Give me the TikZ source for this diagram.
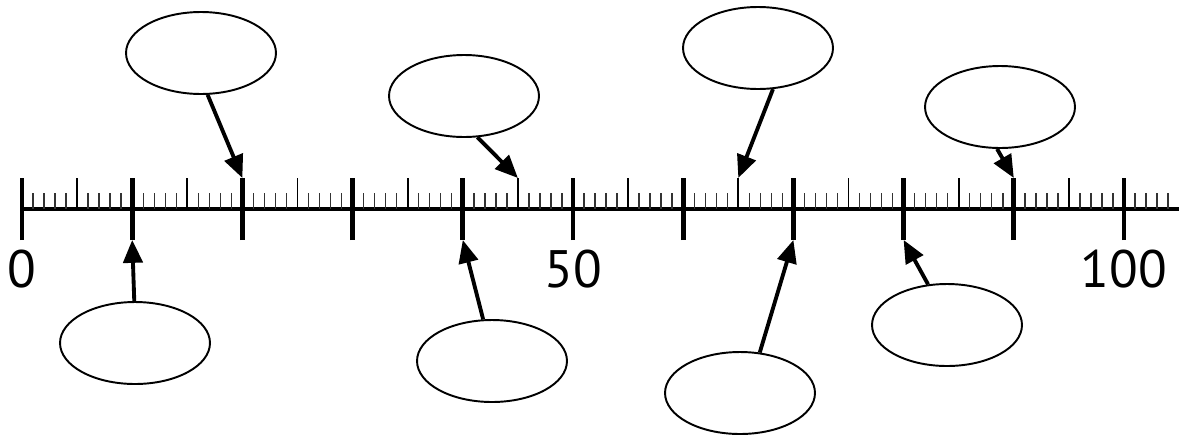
\documentclass[tikz,border=0pt]{standalone}
\usepackage{fontspec}
\setmainfont{PT Sans}
\usetikzlibrary{arrows.meta,shapes.geometric}
\begin{document}
\begin{tikzpicture}[x=0.02cm, y=0.02cm, line join=round, >={Triangle[length=13pt,width=11pt]},
  blank/.style={draw, ellipse, line width=1.1pt, minimum width=3.0cm, minimum height=1.64cm, inner sep=0pt},
  pointer/.style={->, line width=2.2pt},
  num/.style={font=\fontsize{30}{36}\selectfont}]
  \useasboundingbox (-22,-228) rectangle (1170,209);
  % number line and ticks
  \draw[line width=2.3pt] (0,0) -- (1157,0);
  \foreach \i in {1,...,104} \draw[line width=0.8pt, black!80] (\i*11.02,0) -- (\i*11.02,16);
  \foreach \i in {5,15,...,95} {
    \draw[line width=1.1pt] (\i*11.02,0) -- (\i*11.02,31);
    \coordinate (up\i) at (\i*11.02,31);
  }
  \foreach \i in {0,10,...,100} {
    \draw[line width=2.8pt] (\i*11.02,-31) -- (\i*11.02,31);
    \coordinate (up\i) at (\i*11.02,31);
    \coordinate (dn\i) at (\i*11.02,-31);
  }
  \node[num] (n0) at (0,-60) {0};
  \node[num] (n50) at (551,-60) {50};
  \node[num] (n100) at (1102,-60) {100};
  % empty boxes above
  \node[blank] (e1) at (179,156) {};
  \node[blank] (e2) at (442,113) {};
  \node[blank] (e3) at (736,161) {};
  \node[blank] (e4) at (978,102) {};
  % empty boxes below
  \node[blank] (e5) at (113,-134) {};
  \node[blank] (e6) at (470,-152) {};
  \node[blank] (e7) at (718,-184) {};
  \node[blank] (e8) at (925,-116) {};
  \draw[pointer] (e1.-81) -- (up20);
  \draw[pointer] (e2.-72) -- (up45);
  \draw[pointer] (e3.-70) -- (up65);
  \draw[pointer] (e4.-94) -- (up90);
  \draw[pointer] (e5.91) -- (dn10);
  \draw[pointer] (e6.102) -- (dn40);
  \draw[pointer] (e7.64) -- (dn70);
  \draw[pointer] (e8.115) -- (dn80);
\end{tikzpicture}
\end{document}
